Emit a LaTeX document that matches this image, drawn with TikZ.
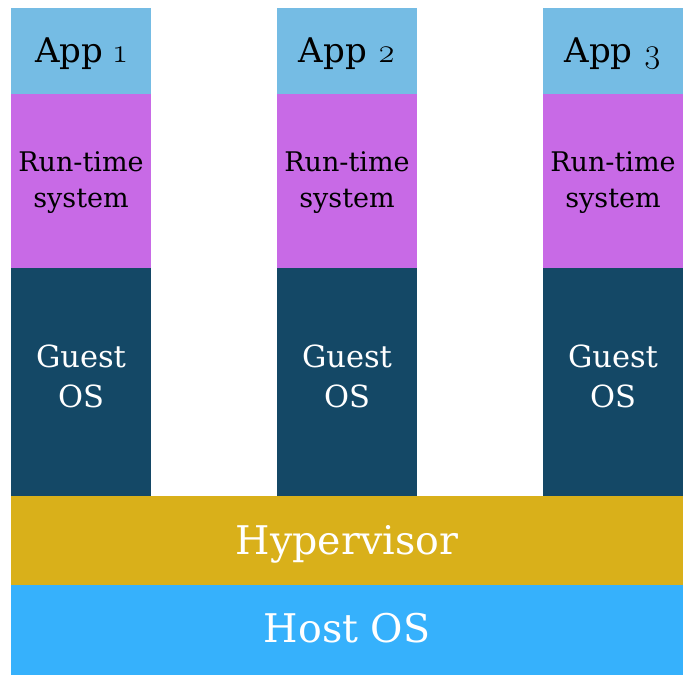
\documentclass[tikz,border=0pt]{standalone}
\usepackage{fontspec}
\setmainfont{DejaVu Serif}
\newfontfamily\lmfont{Latin Modern Roman}
\definecolor{appc}{RGB}{117,188,228}
\definecolor{rtc}{RGB}{200,106,230}
\definecolor{gosc}{RGB}{20,72,102}
\definecolor{hypc}{RGB}{217,176,26}
\definecolor{hostc}{RGB}{54,177,252}
\newcommand{\osn}[1]{{\lmfont\oldstylenums{#1}}}
\begin{document}
\begin{tikzpicture}[x=1pt,y=-1pt,
  block/.style={inner sep=0pt, outer sep=0pt, minimum width=140pt},
  appbox/.style={block, fill=appc, minimum height=86pt},
  rtbox/.style={block, fill=rtc, minimum height=174pt},
  gosbox/.style={block, fill=gosc, minimum height=228pt},
  wide/.style={inner sep=0pt, outer sep=0pt, minimum width=672pt},
  lbl/.style={inner sep=0pt, anchor=base},
  applbl/.style={lbl, text=black, font=\fontsize{34}{40}\selectfont},
  rtlbl/.style={lbl, text=black, font=\fontsize{27}{32}\selectfont},
  goslbl/.style={lbl, text=white, font=\fontsize{30.5}{36}\selectfont},
  widelbl/.style={lbl, text=white, font=\fontsize{39.5}{44}\selectfont}
]
\useasboundingbox (0,0) rectangle (692,685);
\fill[white] (0,0) rectangle (692,685);
\foreach \i/\x in {1/81, 2/347, 3/613} {
  \node[appbox] (app\i) at (\x,51) {};
  \node[rtbox] (rt\i) at (\x,181) {};
  \node[gosbox] (gos\i) at (\x,382) {};
  \node[applbl] (appt\i) at (\x,63) {App \osn{\i}};
  \node[rtlbl] (rta\i) at (\x,171) {Run-time};
  \node[rtlbl] (rtb\i) at (\x,207) {system};
  \node[goslbl] (gosa\i) at (\x,367) {Guest};
  \node[goslbl] (gosb\i) at (\x,407) {OS};
}
\node[wide, fill=hypc, minimum height=89pt] (hyp) at (347,540.5) {};
\node[wide, fill=hostc, minimum height=90pt] (host) at (347,630) {};
\node[widelbl] (hypt) at (347,554) {Hypervisor};
\node[widelbl] (hostt) at (347,642) {Host OS};
\end{tikzpicture}
\end{document}
